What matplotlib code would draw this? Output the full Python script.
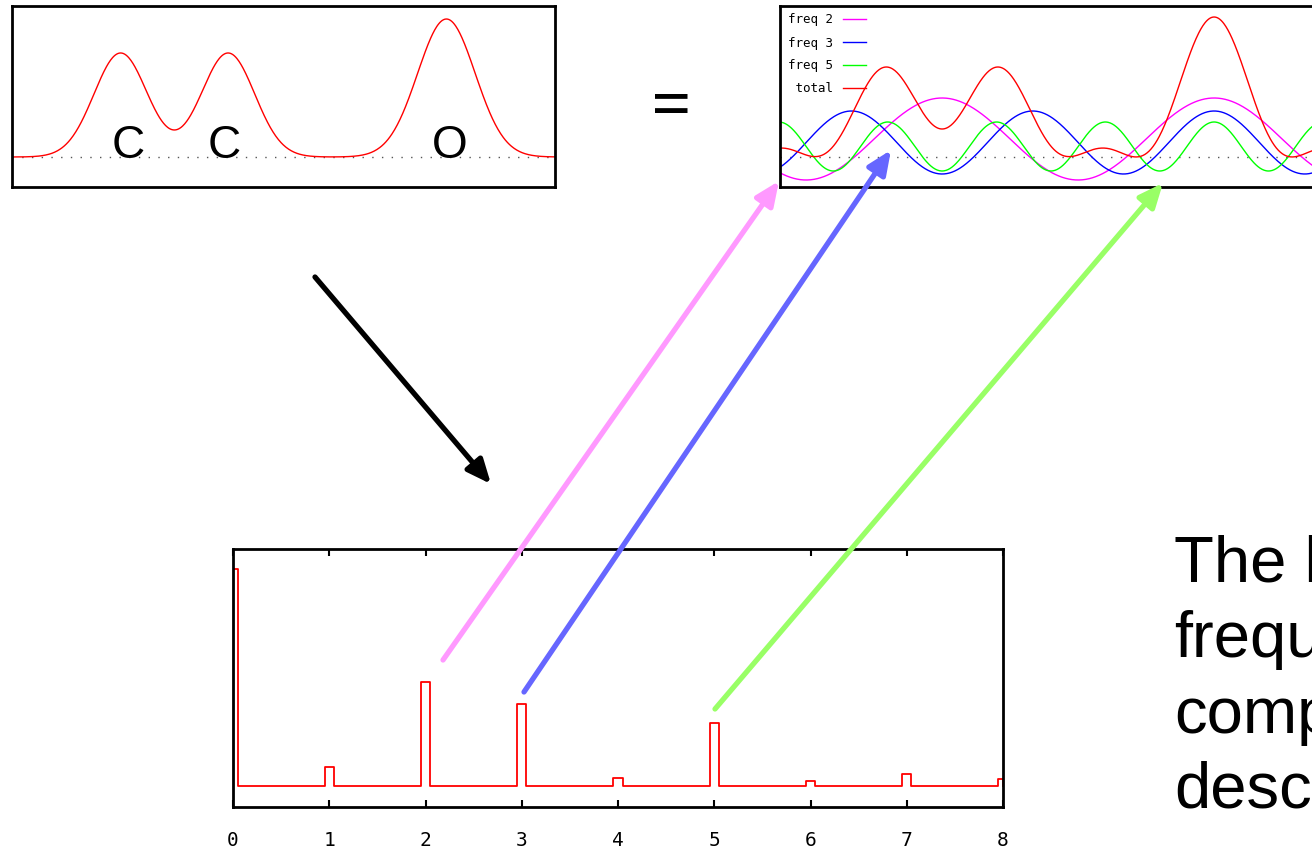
import numpy as np
import matplotlib.pyplot as plt

W, H = 1312, 852

# left panel: density along the C-C-O chain
atom_labels = ["C", "C", "O"]
atom_pos = [0.200, 0.398, 0.800]
atom_height = [104, 104, 138]
atom_width = [0.049, 0.049, 0.053]
label_pos = [0.214, 0.390, 0.807]

# top right: the three strongest Fourier components
comp_freq = [2, 3, 5]
comp_amp = [41, 31.5, 24.5]
comp_offset = [18, 14.5, 10.5]
comp_peak = 0.798
comp_labels = ["freq 2", "freq 3", "freq 5"]
comp_colors = ["#ff00ff", "#0000ff", "#00ff00"]

# bottom: amplitude spectrum
spec_freq = [0, 1, 2, 3, 4, 5, 6, 7, 8]
spec_amp = [217, 19, 104, 82, 8, 63, 5, 12, 7]

# slide text (cut by the right edge of the slide)
side_text = ["The l", "frequ", "comp", "desc"]


fig = plt.figure(figsize=(W / 100, H / 100), dpi=100)


def px_axes(x0, y0, x1, y1):
    return fig.add_axes([x0 / W, 1 - y1 / H, (x1 - x0) / W, (y1 - y0) / H])


def frame(ax, lw=2.0):
    for s in ax.spines.values():
        s.set_linewidth(lw)
        s.set_color("black")


x = np.linspace(0, 1, 800)

########################## density panel ##########################
ax1 = px_axes(12, 6, 555, 187)
dens = np.zeros_like(x)
for p, h, w in zip(atom_pos, atom_height, atom_width):
    dens += h * np.exp(-(x - p) ** 2 / (2 * w ** 2))
ax1.axhline(0, color="#555555", lw=1, ls=(0, (1, 6)))
ax1.plot(x, dens, color="red", lw=1)
for lab, p in zip(atom_labels, label_pos):
    ax1.text(p, -1, lab, ha="center", va="baseline", fontsize=33,
             family="Liberation Sans")
ax1.set_xlim(0, 1)
ax1.set_ylim(-30, 151)
ax1.set_xticks([])
ax1.set_yticks([])
frame(ax1)

########################## components panel ##########################
ax2 = px_axes(780, 6, 1324, 187)
ax2.axhline(0, color="#555555", lw=1, ls=(0, (1, 6)))
total = np.zeros_like(x)
for f, a, o, lab, c in zip(comp_freq, comp_amp, comp_offset, comp_labels, comp_colors):
    y = o + a * np.cos(2 * np.pi * f * (x - comp_peak))
    total += y
    ax2.plot(x, y, color=c, lw=1, label=lab)
ax2.plot(x, total, color="red", lw=1, label=" total")
ax2.set_xlim(0, 1)
ax2.set_ylim(-30, 151)
ax2.set_xticks([])
ax2.set_yticks([])
frame(ax2)
ax2.legend(loc="upper left", frameon=False, markerfirst=False,
           prop={"family": "DejaVu Sans Mono", "size": 9},
           handlelength=1.9, handletextpad=0.8, labelspacing=0.8,
           borderaxespad=0.3, borderpad=0.3)

########################## spectrum panel ##########################
ax3 = px_axes(233, 549, 1003, 807)
half = 0.047
xs, ys = [], []
for f, a in zip(spec_freq, spec_amp):
    left = max(f - half, 0)
    right = min(f + half, 8)
    xs += [left, left, right, right]
    ys += [0, a, a, 0]
ax3.plot(xs, ys, color="red", lw=1.3)
ax3.set_xlim(0, 8)
ax3.set_ylim(-21, 237)
ax3.set_xticks(spec_freq)
ax3.set_yticks([])
ax3.tick_params(axis="x", direction="in", top=True, length=5, width=1.5,
                pad=17, labelsize=14)
for t in ax3.get_xticklabels():
    t.set_family("DejaVu Sans Mono")
frame(ax3)

########################## arrows and text ##########################
ov = fig.add_axes([0, 0, 1, 1], facecolor="none")
ov.set_xlim(0, W)
ov.set_ylim(H, 0)
ov.axis("off")

arrows = [
    ((315, 277), (491, 484), "black"),
    ((443, 660), (779, 181), "#ff99ff"),
    ((524, 692), (891, 150), "#6666ff"),
    ((715, 709), (1163, 183), "#99ff66"),
]
for start, tip, col in arrows:
    ov.annotate("", xy=tip, xytext=start,
                arrowprops=dict(arrowstyle="-|>,head_length=0.8,head_width=0.35",
                                lw=3.8, color=col, mutation_scale=18,
                                shrinkA=0, shrinkB=0))

ov.text(671, 129, "=", ha="center", va="baseline", fontsize=51,
        family="Open Sans")
for i, line in enumerate(side_text):
    ov.text(1174, 582 + 75.3 * i, line, ha="left", va="baseline", fontsize=47,
            family="Liberation Sans")

fig.savefig("out.png", dpi=100)
